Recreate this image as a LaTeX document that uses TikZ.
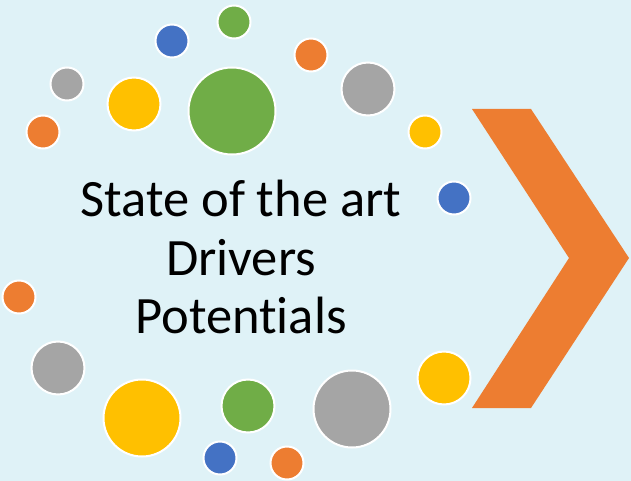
\documentclass[tikz,border=0pt]{standalone}
\usepackage{fontspec}
\setmainfont[Ligatures=NoCommon]{Carlito}
\definecolor{bgc}{RGB}{223,242,247}
\definecolor{oorange}{RGB}{237,125,49}
\definecolor{oblue}{RGB}{68,114,196}
\definecolor{ogreen}{RGB}{112,173,71}
\definecolor{ogray}{RGB}{165,165,165}
\definecolor{oyellow}{RGB}{255,192,0}
\tikzset{
  dot/.style={circle, draw=white, line width=2pt, inner sep=0pt, minimum size=#1},
  tiny/.style={dot=33pt},
  mid/.style={dot=53pt},
  big/.style={dot=77pt},
  huge/.style={dot=87pt},
  title/.style={font=\fontsize{52.5}{58}\selectfont, anchor=base, inner sep=0pt}
}
\begin{document}
\begin{tikzpicture}[x=1pt,y=-1pt]
\fill[bgc] (0,0) rectangle (631,481);
\useasboundingbox (0,0) rectangle (631,481);
% top arc
\node[tiny, fill=oblue] (b1) at (172,41) {};
\node[tiny, fill=ogreen] (g1) at (234,22) {};
\node[tiny, fill=oorange] (o1) at (311,55) {};
\node[tiny, fill=ogray] (a1) at (67,84) {};
\node[mid, fill=oyellow] (y1) at (134,104) {};
\node[huge, fill=ogreen] (g2) at (232,111) {};
\node[tiny, fill=oorange] (o2) at (43,132) {};
\node[mid, fill=ogray] (a2) at (368,89) {};
\node[tiny, fill=oyellow] (y2) at (425,132) {};
\node[tiny, fill=oblue] (b2) at (454,198) {};
% bottom arc
\node[tiny, fill=oorange] (o3) at (19,297) {};
\node[mid, fill=ogray] (a3) at (58,368) {};
\node[big, fill=oyellow] (y3) at (142,418) {};
\node[mid, fill=ogreen] (g3) at (248,406) {};
\node[tiny, fill=oblue] (b3) at (220,458) {};
\node[tiny, fill=oorange] (o4) at (287,463) {};
\node[big, fill=ogray] (a4) at (352,409) {};
\node[mid, fill=oyellow] (y4) at (444,378) {};
% chevron
\fill[oorange] (472,109) -- (531,109) -- (629,258) -- (531,408) -- (472,408) -- (569,258) -- cycle;
% text
\node[title] (t1) at (241,216) {State of the art};
\node[title] (t2) at (241,275) {Drivers};
\node[title] (t3) at (241,333) {Potentials};
\end{tikzpicture}
\end{document}
